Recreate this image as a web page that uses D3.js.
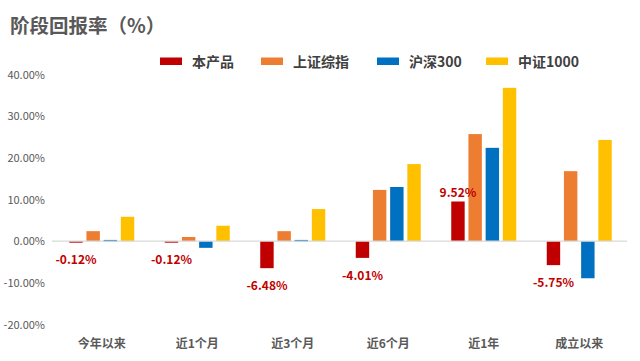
<!DOCTYPE html>
<html><head><meta charset="utf-8">
<script src="https://cdn.jsdelivr.net/npm/d3@7"></script>
<style>body{margin:0;background:#fff}svg{display:block}text{font-family:"Noto Sans CJK SC","Microsoft YaHei",sans-serif}</style>
</head><body><svg id="c" width="640" height="361"></svg>
<script>
const categories = ["今年以来","近1个月","近3个月","近6个月","近1年","成立以来"];
const seriesNames = ["本产品","上证综指","沪深300","中证1000"];
const product = [-0.12, -0.12, -6.48, -4.01, 9.52, -5.75];
const sse = [2.4, 1.0, 2.4, 12.3, 25.7, 16.8];
const hs300 = [0.3, -1.6, 0.3, 13.0, 22.4, -8.9];
const csi1000 = [5.85, 3.7, 7.7, 18.5, 36.8, 24.3];
const yTicks = [-20, -10, 0, 10, 20, 30, 40];
const colors = ["#C00000","#ED7D31","#0070C0","#FFC000"];
const seriesValues = [product, sse, hs300, csi1000];

const svg = d3.select("#c");
const x = d3.scaleBand().domain(categories).range([54, 627]).padding(0);
const xi = d3.scaleBand().domain(seriesNames).range([x.bandwidth()/2 - 32.5, x.bandwidth()/2 + 32.5]).paddingInner(0.22).paddingOuter(0);
const y = d3.scaleLinear().domain([-20, 40]).range([324.5, 74.5]);

// title
svg.append("text").attr("x", 10).attr("y", 33).attr("font-size", 19.5).attr("font-weight", "bold").attr("fill", "#595959").text("阶段回报率（%）");

// y axis
const ya = svg.append("g").attr("transform", "translate(45,0)")
  .call(d3.axisLeft(y).tickValues(yTicks).tickSize(0).tickPadding(0).tickFormat(d => d.toFixed(2) + "%"));
ya.select(".domain").remove();
ya.selectAll("text").attr("font-size", 11).attr("fill", "#595959").style("font-family", '"Noto Sans CJK SC",sans-serif');

// bars
const g = svg.append("g");
seriesNames.forEach((s, si) => {
  g.selectAll(".b" + si).data(categories).enter().append("rect")
    .attr("x", c => x(c) + xi(s))
    .attr("width", xi.bandwidth())
    .attr("y", (c, i) => y(Math.max(0, seriesValues[si][i])))
    .attr("height", (c, i) => Math.max(1.5, Math.abs(y(seriesValues[si][i]) - y(0))))
    .attr("fill", colors[si]);
});

// zero line
svg.append("line").attr("x1", 52).attr("x2", 627).attr("y1", y(0)).attr("y2", y(0)).attr("stroke", "#d9d9d9").attr("stroke-width", 1.3);

// data labels for product
svg.selectAll(".lbl").data(categories).enter().append("text")
  .attr("x", c => x(c) + xi(seriesNames[0]) + xi.bandwidth()/2)
  .attr("y", (c, i) => product[i] >= 0 ? y(product[i]) - 5 : y(product[i]) + 22)
  .attr("text-anchor", "middle").attr("font-size", 12).attr("font-weight", "bold").attr("fill", "#C00000")
  .text((c, i) => product[i].toFixed(2) + "%");

// x axis labels
const xa = svg.append("g").attr("transform", "translate(0,337)")
  .call(d3.axisBottom(x).tickSize(0).tickPadding(0));
xa.select(".domain").remove();
xa.selectAll("text").attr("font-size", 12).attr("font-weight", "bold").attr("fill", "#595959").attr("dy", "0.9em").style("font-family", '"Noto Sans CJK SC",sans-serif');

// legend
const legX = [160, 261, 377, 486];
const leg = svg.append("g");
seriesNames.forEach((s, i) => {
  leg.append("rect").attr("x", legX[i]).attr("y", 57.5).attr("width", 22).attr("height", 7.5).attr("fill", colors[i]);
  leg.append("text").attr("x", legX[i] + 32).attr("y", 67).attr("font-size", 14).attr("font-weight", "bold").attr("fill", "#404040").text(s);
});
</script></body></html>
